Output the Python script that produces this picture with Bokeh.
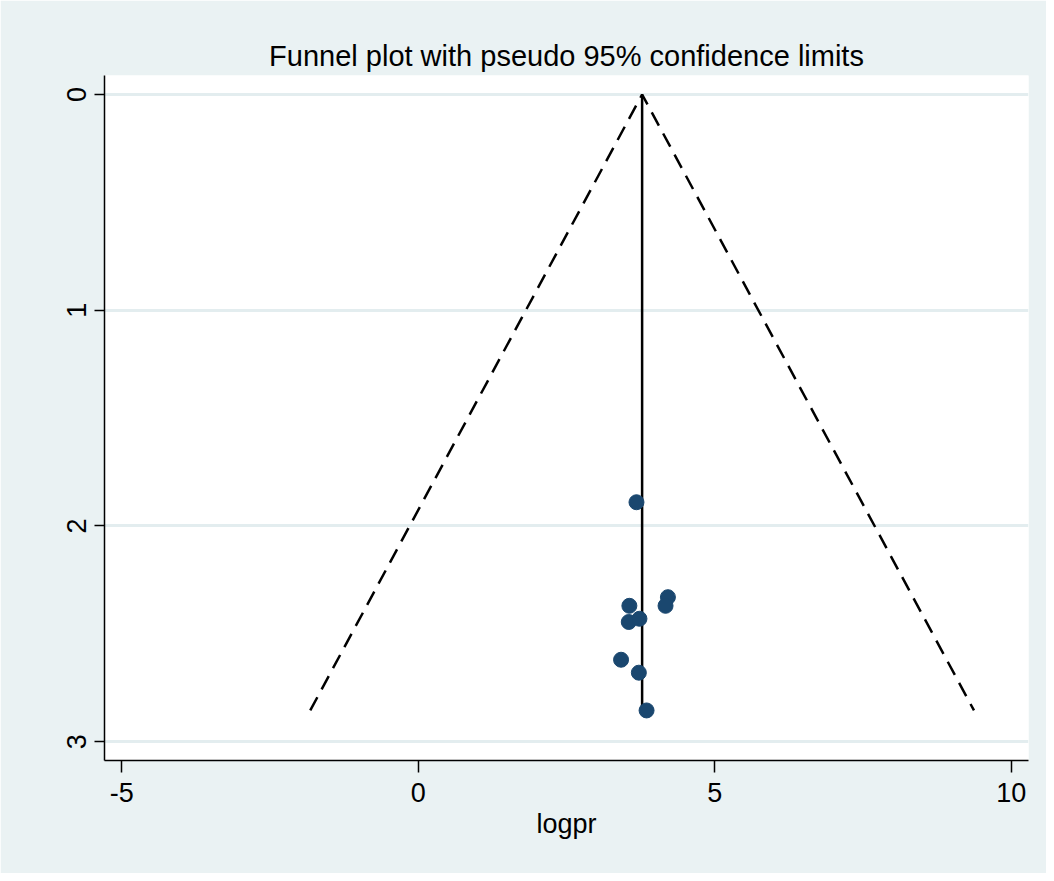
import math
from bokeh.plotting import figure
from bokeh.models import Range1d, FixedTicker
from bokeh.embed import file_html
from bokeh.resources import INLINE

# Data
logpr = [3.68, 4.21, 4.17, 3.56, 3.55, 3.73, 3.42, 3.72, 3.85]
se_logpr = [1.89, 2.33, 2.37, 2.37, 2.445, 2.43, 2.62, 2.68, 2.855]
pooled = 3.775
x_ticks = [-5, 0, 5, 10]
x_tick_labels = ["-5", "0", "5", "10"]
y_ticks = [0, 1, 2, 3]
title_text = "Funnel plot with pseudo 95% confidence limits"
x_label = "logpr"

BG = "#EAF2F3"
GRID = "#E3EDEF"
FONT = "Liberation Sans"

se_max = max(se_logpr)
z = 1.96

p = figure(width=1046, height=873, output_backend="svg", toolbar_location=None,
           x_range=Range1d(-5.29, 10.29), y_range=Range1d(3.087, -0.088),
           min_border_left=104, min_border_right=18, min_border_top=75, min_border_bottom=113)
p.background_fill_color = "white"
p.border_fill_color = BG
p.outline_line_color = None

p.title.text = title_text
p.title.text_font = FONT
p.title.text_font_size = "29px"
p.title.text_font_style = "normal"
p.title.align = "center"
p.title.text_color = "black"
p.title.offset = 0
p.title.standoff = 8

# grid
p.xgrid.grid_line_color = None
p.ygrid.grid_line_color = GRID
p.ygrid.grid_line_width = 3
p.ygrid.ticker = FixedTicker(ticks=y_ticks)

for ax in (p.xaxis[0], p.yaxis[0]):
    ax.axis_line_color = "black"
    ax.axis_line_width = 1.5
    ax.major_tick_line_color = "black"
    ax.major_tick_line_width = 1.5
    ax.minor_tick_line_color = None
    ax.major_tick_in = 0
    ax.major_label_text_font = FONT
    ax.major_label_text_font_size = "27px"
    ax.major_label_text_color = "black"

p.xaxis.ticker = FixedTicker(ticks=x_ticks)
p.xaxis.major_label_overrides = {t: s for t, s in zip(x_ticks, x_tick_labels)}
p.xaxis.major_tick_out = 12
p.xaxis.major_label_standoff = 10
p.xaxis.axis_label = x_label
p.xaxis.axis_label_text_font = FONT
p.xaxis.axis_label_text_font_size = "27px"
p.xaxis.axis_label_text_font_style = "normal"
p.xaxis.axis_label_text_color = "black"
p.xaxis.axis_label_standoff = 4

p.yaxis.ticker = FixedTicker(ticks=y_ticks)
p.yaxis.major_tick_out = 10
p.yaxis.major_label_standoff = 8
p.yaxis.major_label_orientation = "vertical"

# funnel limits
p.line([pooled - z * se_max, pooled, pooled + z * se_max], [se_max, 0, se_max],
       line_color="black", line_width=2.5, line_dash="15 9")
# pooled estimate
p.line([pooled, pooled], [0, se_max], line_color="black", line_width=2.5)

# studies
p.scatter(logpr, se_logpr, size=15, fill_color="#1A476F", line_color="#1A476F")

open("out.html", "w").write(file_html(p, INLINE))
